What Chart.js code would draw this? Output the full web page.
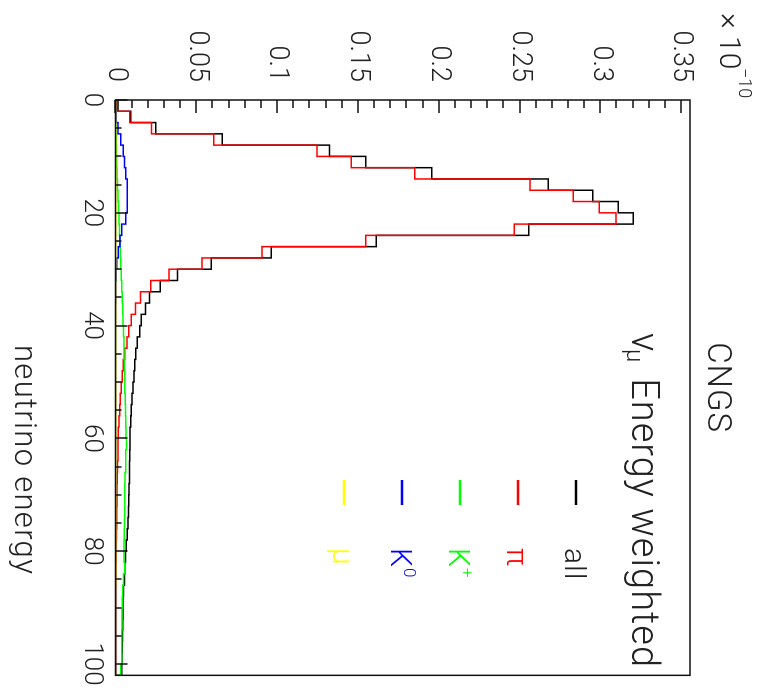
<!DOCTYPE html>
<html>
<head>
<meta charset="utf-8">
<title>CNGS neutrino energy</title>
<script src="https://cdn.jsdelivr.net/npm/chart.js@4.4.1/dist/chart.umd.min.js"></script>
<style>
  html, body { margin: 0; padding: 0; width: 763px; height: 694px; overflow: hidden; background: #fff; }
  /* the histogram is drawn upright and then turned a quarter clockwise */
  #wrap { position: absolute; left: 0; top: 0; width: 694px; height: 763px;
          transform-origin: 0 0; transform: translate(763px, 0) rotate(90deg); }
</style>
</head>
<body>
<div id="wrap"><canvas id="chart" width="694" height="763"></canvas></div>
<script>
// lower bin edges (GeV), bins are 2 wide, last bin ends at 102
const binEdges = [0, 2, 4, 6, 8, 10, 12, 14, 16, 18, 20, 22, 24, 26, 28, 30, 32, 34, 36, 38, 40,
  42, 44, 46, 48, 50, 52, 54, 56, 58, 60, 62, 64, 66, 68, 70, 72, 74, 76, 78, 80,
  82, 84, 86, 88, 90, 92, 94, 96, 98, 100];
const lastEdge = 102;

// energy weighted flux, in units of 1e-10
const allFlux = [0.0015, 0.0094, 0.0249, 0.0661, 0.1325, 0.1548, 0.1957, 0.2678, 0.2953, 0.3111,
  0.3204, 0.2557, 0.1614, 0.0964, 0.0593, 0.0383, 0.0277, 0.0211, 0.0185, 0.0160,
  0.0150, 0.0135, 0.0125, 0.0119, 0.0114, 0.0108, 0.0102, 0.0098, 0.0094, 0.0090,
  0.0090, 0.0088, 0.0087, 0.0086, 0.0084, 0.0082, 0.0080, 0.0078, 0.0072, 0.0066,
  0.0062, 0.0058, 0.0056, 0.0050, 0.0047, 0.0046, 0.0045, 0.0044, 0.0041, 0.0040, 0.0039];
const pionFlux = [0.0005, 0.0088, 0.0222, 0.0608, 0.1247, 0.1459, 0.1851, 0.2565, 0.2833, 0.2994,
  0.3097, 0.2468, 0.1548, 0.0907, 0.0535, 0.0331, 0.0218, 0.0154, 0.0123, 0.0098,
  0.0082, 0.0071, 0.0057, 0.0048, 0.0042, 0.0036, 0.0030, 0.0026, 0.0022, 0.0017,
  0.0016, 0.0015, 0.0013, 0.0011, 0.0010, 0.0009, 0.0008, 0.0007, 0.0006, 0.0005,
  0.0004, 0.0003, 0.0003, 0.0002, 0.0002, 0.0002, 0.0001, 0.0001, 0.0001, 0.0001, 0.0001];
const kplusFlux = [0, 0.0001, 0.0002, 0.0004, 0.0006, 0.0008, 0.0010, 0.0012, 0.0015, 0.0018,
  0.0021, 0.0024, 0.0027, 0.0030, 0.0033, 0.0036, 0.0039, 0.0042, 0.0045, 0.0047,
  0.0050, 0.0052, 0.0053, 0.0055, 0.0057, 0.0058, 0.0060, 0.0062, 0.0063, 0.0065,
  0.0068, 0.0064, 0.0063, 0.0059, 0.0058, 0.0057, 0.0057, 0.0055, 0.0054, 0.0053,
  0.0053, 0.0057, 0.0050, 0.0045, 0.0041, 0.0040, 0.0040, 0.0039, 0.0039, 0.0038, 0.0033];
const k0Flux = [0, 0.0004, 0.0016, 0.0032, 0.0048, 0.0055, 0.0063, 0.0072, 0.0073, 0.0072,
  0.0063, 0.0038, 0.0028, 0.0017, 0.0008, 0.0004, 0.0002, 0.0001, 0, 0,
  0, 0, 0, 0, 0, 0, 0, 0, 0, 0,
  0, 0, 0, 0, 0, 0, 0, 0, 0, 0,
  0, 0, 0, 0, 0, 0, 0, 0, 0, 0, 0];
const muonFlux = [0, 0.0002, 0.0002, 0.0002, 0.0002, 0.0002, 0.0002, 0.0002, 0.0002, 0.0002,
  0.0002, 0.0002, 0.0002, 0.0002, 0.0002, 0.0002, 0.0002, 0.0002, 0.0002, 0.0002,
  0.0001, 0.0001, 0.0001, 0.0001, 0.0001, 0.0001, 0.0001, 0.0001, 0.0001, 0.0001,
  0.0001, 0.0001, 0.0001, 0.0001, 0.0001, 0.0001, 0.0001, 0.0001, 0.0001, 0.0001,
  0.0001, 0.0001, 0.0001, 0, 0, 0, 0, 0, 0, 0, 0];

const seriesNames = ['all', 'π', 'K', 'K', 'μ'];
const seriesSup = ['', '', '+', '0', ''];
const seriesColors = ['#000000', '#ff0000', '#00ff00', '#0000ff', '#ffff00'];
const seriesData = [allFlux, pionFlux, kplusFlux, k0Flux, muonFlux];

const energyMax = 102;
const fluxMax = 0.3555;

const FONT = 'Roboto';
const TEXT = '#222';

// histogram outline: start on the baseline, step through every bin, close at the last edge
function histPoints(values) {
  const pts = [{ x: binEdges[0], y: 0 }];
  binEdges.forEach((e, i) => pts.push({ x: e, y: values[i] }));
  pts.push({ x: lastEdge, y: values[values.length - 1] });
  pts.push({ x: lastEdge, y: 0 });
  return pts;
}

// frame plus inward ticks, like a ROOT pad
const framePlugin = {
  id: 'frame',
  afterDatasetsDraw(chart) {
    const { ctx, chartArea: a, scales: { x, y } } = chart;
    ctx.save();
    ctx.strokeStyle = '#111';
    ctx.lineWidth = 1.5;
    ctx.beginPath();
    for (let e = 0; e <= 100; e += 5) {
      const px = Math.round(x.getPixelForValue(e));
      const len = e % 20 === 0 ? 12 : 6;
      ctx.moveTo(px, a.bottom);
      ctx.lineTo(px, a.bottom - len);
    }
    for (let k = 0; k <= 35; k++) {
      const py = Math.round(y.getPixelForValue(k / 100));
      const len = k % 5 === 0 ? 13 : 8;
      ctx.moveTo(a.left, py);
      ctx.lineTo(a.left + len, py);
    }
    ctx.stroke();
    ctx.strokeRect(a.left, a.top, a.right - a.left, a.bottom - a.top);
    ctx.restore();
  }
};

// titles, legend and the axis exponent
const textPlugin = {
  id: 'texts',
  afterDraw(chart) {
    const { ctx, chartArea: a } = chart;
    ctx.save();
    ctx.fillStyle = TEXT;
    ctx.textBaseline = 'alphabetic';

    ctx.font = `300 33px ${FONT}`;
    ctx.letterSpacing = '1px';
    ctx.textAlign = 'center';
    ctx.fillText('CNGS', (a.left + a.right) / 2, 55);

    ctx.textAlign = 'left';
    ctx.font = `300 38px ${FONT}`;
    ctx.letterSpacing = '0px';
    ctx.fillText('ν', 333, 131);
    ctx.font = `300 24px ${FONT}`;
    ctx.fillText('μ', 349, 136);
    ctx.font = `300 38px ${FONT}`;
    ctx.letterSpacing = '1px';
    ctx.textAlign = 'right';
    ctx.fillText('Energy weighted', 668, 131);

    // legend
    ctx.textAlign = 'left';
    seriesNames.forEach((name, i) => {
      const ly = 187 + 58 * i;
      ctx.strokeStyle = seriesColors[i];
      ctx.lineWidth = 2.5;
      ctx.beginPath();
      ctx.moveTo(480, ly);
      ctx.lineTo(505, ly);
      ctx.stroke();
      ctx.fillStyle = i === 0 ? TEXT : seriesColors[i];
      ctx.font = `300 30px ${FONT}`;
      ctx.letterSpacing = '1px';
      ctx.fillText(name, 548, ly + 11);
      if (seriesSup[i]) {
        const w = ctx.measureText(name).width;
        ctx.font = `300 17px ${FONT}`;
        ctx.fillText(seriesSup[i], 548 + w, ly - 2);
      }
    });

    ctx.fillStyle = TEXT;
    ctx.letterSpacing = '0px';
    ctx.font = `300 30px ${FONT}`;
    ctx.fillText('× 10', 13, 43);
    ctx.font = `300 18px ${FONT}`;
    ctx.fillText('−10', 68, 24);

    ctx.font = `300 31px ${FONT}`;
    ctx.letterSpacing = '1.3px';
    ctx.fillText('neutrino energy', 345, 748);
    ctx.restore();
  }
};

Chart.defaults.font.family = FONT;
Chart.defaults.font.weight = 300;
Chart.defaults.color = TEXT;

new Chart(document.getElementById('chart'), {
  type: 'line',
  data: {
    datasets: seriesData.map((vals, i) => ({
      label: seriesNames[i] + seriesSup[i],
      data: histPoints(vals),
      borderColor: seriesColors[i],
      borderWidth: 1.5,
      stepped: 'before',
      pointRadius: 0,
      fill: false,
      order: i === 0 ? 10 : 5 - i
    }))
  },
  options: {
    responsive: false,
    devicePixelRatio: 1,
    animation: false,
    layout: { padding: { top: 73, right: 16, left: 0, bottom: 0 } },
    plugins: { legend: { display: false }, tooltip: { enabled: false }, title: { display: false } },
    scales: {
      x: {
        type: 'linear',
        min: 0,
        max: energyMax,
        grid: { display: false, drawTicks: false },
        border: { display: false },
        ticks: { stepSize: 20, includeBounds: false, padding: 8, maxRotation: 0, autoSkip: false,
                 font: { size: 26, weight: 300 } },
        afterFit(s) { s.height = 115.5; }
      },
      y: {
        type: 'linear',
        min: 0,
        max: fluxMax,
        grid: { display: false, drawTicks: false },
        border: { display: false },
        ticks: { stepSize: 0.05, includeBounds: false, padding: 18,
                 font: { size: 27, weight: 300 },
                 callback: v => String(+v.toFixed(2)) },
        afterFit(s) { s.width = 100; }
      }
    }
  },
  plugins: [framePlugin, textPlugin]
});
</script>
</body>
</html>
